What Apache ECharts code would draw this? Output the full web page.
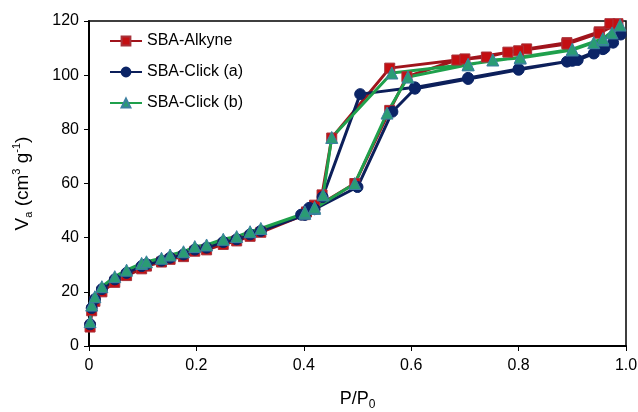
<!DOCTYPE html>
<html>
<head>
<meta charset="utf-8">
<script src="https://cdn.jsdelivr.net/npm/echarts@6/dist/echarts.min.js"></script>
<style>
html, body { margin: 0; padding: 0; background: #fff; }
#chart { width: 638px; height: 412px; }
</style>
</head>
<body>
<div id="chart"></div>
<script>
// isotherm loops: adsorption up, then desorption back down
const alkyneX = [0.002, 0.005, 0.011, 0.024, 0.048, 0.07, 0.098, 0.107, 0.135, 0.151, 0.176, 0.197, 0.219, 0.25, 0.275, 0.3, 0.32, 0.402, 0.42,
    0.495, 0.56, 0.592, 0.685, 0.74, 0.78, 0.815, 0.89, 0.95, 0.97, 0.985,
    0.95, 0.89, 0.8, 0.7, 0.56, 0.452, 0.434, 0.42, 0.405]
const alkyneY = [7, 13, 16.5, 20, 23.5, 26, 28.5, 29.5, 31, 32, 33, 35, 35.5, 37.5, 38.8, 40.5, 42, 48.5, 51,
    60, 87, 99.4, 105.6, 106.7, 108.5, 109.7, 112, 116, 119, 119,
    115.5, 111.5, 109, 106, 102.6, 76.8, 55.8, 52, 49.5]

const clickAX = [0.002, 0.005, 0.011, 0.024, 0.048, 0.07, 0.098, 0.107, 0.135, 0.151, 0.176, 0.197, 0.219, 0.25, 0.275, 0.3, 0.32, 0.402, 0.42,
    0.5, 0.565, 0.607, 0.706, 0.8, 0.89, 0.91, 0.94, 0.957, 0.976, 0.99,
    0.96, 0.9, 0.8, 0.706, 0.607, 0.505, 0.435, 0.41, 0.395]
const clickAY = [8, 14, 17.3, 21, 24.6, 27, 29.5, 30.2, 31.5, 32.6, 33.8, 35.6, 36.3, 38.4, 39.4, 41.2, 42.5, 48.4, 50.5,
    58.7, 86.5, 95, 98.6, 102, 105, 105.6, 108, 109.6, 112, 115,
    110, 105.3, 102.3, 99, 95.5, 93, 55, 51, 48.5]

const clickBX = [0.002, 0.005, 0.011, 0.024, 0.048, 0.07, 0.098, 0.107, 0.135, 0.151, 0.176, 0.197, 0.219, 0.25, 0.275, 0.3, 0.32, 0.402, 0.42,
    0.495, 0.555, 0.594, 0.706, 0.752, 0.803, 0.9, 0.94, 0.957, 0.974, 0.989,
    0.957, 0.9, 0.803, 0.706, 0.564, 0.452, 0.436, 0.42, 0.402]
const clickBY = [9, 15.1, 18.2, 21.9, 25.6, 28, 30.5, 31.1, 32.4, 33.6, 34.8, 36.7, 37.3, 39.4, 40.4, 42.2, 43.4, 49, 50.8,
    60, 86, 99.3, 103.8, 105.6, 106.3, 109.3, 112, 113, 115.6, 118.5,
    113.5, 109.6, 106.6, 104, 100.8, 77, 55.8, 51.2, 49.5]

const xTicks = [0, 0.2, 0.4, 0.6, 0.8, 1.0]
const yTicks = [0, 20, 40, 60, 80, 100, 120]

const pairs = (xs, ys) => xs.map((x, i) => [x, ys[i]])

const chart = echarts.init(document.getElementById('chart'))

const font = 'Liberation Sans, Arial, sans-serif'

const option = {
    animation: false,
    textStyle: { fontFamily: font },
    grid: {
        left: 89,
        right: 12,
        top: 21,
        bottom: 66,
        outerBoundsMode: 'none',
        show: true,
        borderColor: '#000',
        borderWidth: 1.5,
    },
    legend: {
        orient: 'vertical',
        left: 104,
        top: 28,
        itemGap: 15,
        itemWidth: 32,
        itemHeight: 11,
        textStyle: { fontSize: 16, color: '#000', fontFamily: font },
        data: ['SBA-Alkyne', 'SBA-Click (a)', 'SBA-Click (b)'],
    },
    xAxis: {
        type: 'value',
        min: 0,
        max: 1,
        interval: 0.2,
        name: 'P/P{s|0}',
        nameLocation: 'middle',
        nameGap: 42,
        nameTextStyle: {
            fontSize: 18,
            color: '#000',
            rich: { s: { fontSize: 12, padding: [11, 0, 0, 0], verticalAlign: 'bottom' } },
        },
        axisLine: { lineStyle: { color: '#000', width: 2 } },
        axisTick: { show: true, length: 5, lineStyle: { color: '#000' } },
        axisLabel: {
            fontSize: 16,
            color: '#000',
            margin: 12,
            formatter: (v) => {
                const t = xTicks.find((k) => Math.abs(k - v) < 1e-9)
                if (t === undefined) return ''
                return t === 0 ? '0' : t.toFixed(1)
            },
        },
        splitLine: { show: false },
    },
    yAxis: {
        type: 'value',
        min: 0,
        max: 120,
        interval: 20,
        name: '{n|V}{s|a}{n| (cm}{p|3}{n| g}{p|-1}{n|)}',
        nameLocation: 'middle',
        nameRotate: 90,
        nameGap: 55,
        nameTextStyle: {
            color: '#000',
            rich: {
                n: { fontSize: 19, color: '#000' },
                s: { fontSize: 11, color: '#000', padding: [12, 0, 0, 0], verticalAlign: 'bottom' },
                p: { fontSize: 11, color: '#000', padding: [0, 0, 12, 0], verticalAlign: 'top' },
            },
        },
        axisLine: { show: true, lineStyle: { color: '#000', width: 2 } },
        axisTick: { show: true, length: 5, lineStyle: { color: '#000' } },
        axisLabel: {
            fontSize: 16,
            color: '#000',
            margin: 10,
            formatter: (v) => (yTicks.includes(v) ? String(v) : ''),
        },
        splitLine: { show: false },
    },
    series: [
        {
            name: 'SBA-Alkyne',
            type: 'line',
            data: pairs(alkyneX, alkyneY),
            symbol: 'rect',
            symbolSize: 10,
            lineStyle: { color: '#A0141C', width: 3 },
            itemStyle: { color: '#C40F12', borderColor: '#A8323A', borderWidth: 1 },
        },
        {
            name: 'SBA-Click (a)',
            type: 'line',
            data: pairs(clickAX, clickAY),
            symbol: 'circle',
            symbolSize: 11,
            lineStyle: { color: '#0C1F5A', width: 3 },
            itemStyle: { color: '#0B2466', borderColor: '#0B2466', borderWidth: 1 },
        },
        {
            name: 'SBA-Click (b)',
            type: 'line',
            data: pairs(clickBX, clickBY),
            symbol: 'triangle',
            symbolSize: 12,
            lineStyle: { color: '#1FA04C', width: 3 },
            itemStyle: { color: '#2A9C74', borderColor: '#3C7FA0', borderWidth: 1 },
        },
    ],
}

chart.setOption(option)
</script>
</body>
</html>
